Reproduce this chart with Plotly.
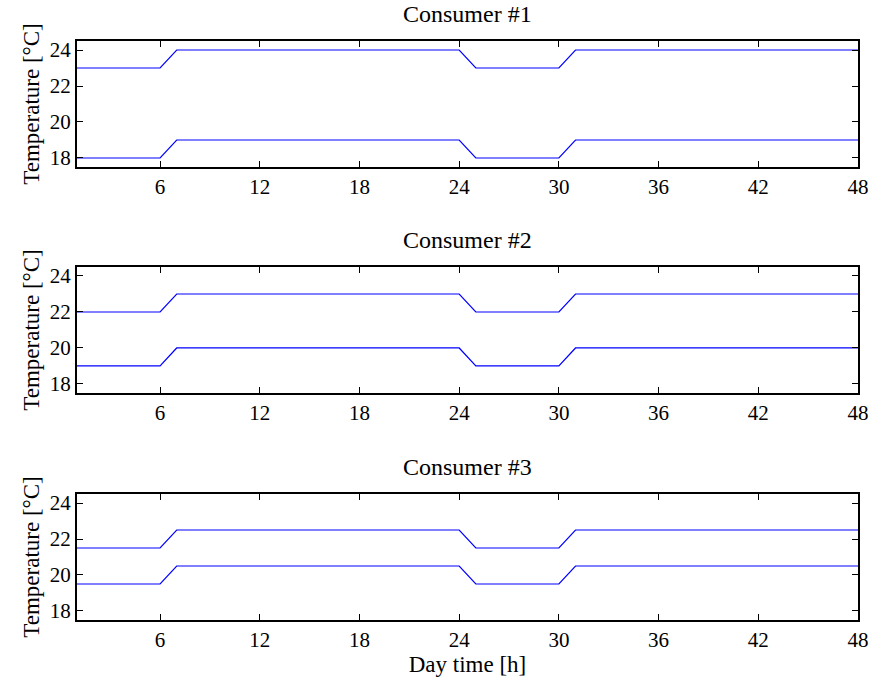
import plotly.graph_objects as go
from plotly.subplots import make_subplots

hours = [1, 2, 3, 4, 5, 6, 7, 8, 9, 10, 11, 12, 13, 14, 15, 16, 17, 18, 19, 20, 21, 22, 23, 24,
         25, 26, 27, 28, 29, 30, 31, 32, 33, 34, 35, 36, 37, 38, 39, 40, 41, 42, 43, 44, 45, 46, 47, 48]

c1_upper = [23, 23, 23, 23, 23, 23, 24, 24, 24, 24, 24, 24, 24, 24, 24, 24, 24, 24, 24, 24, 24, 24, 24, 24,
            23, 23, 23, 23, 23, 23, 24, 24, 24, 24, 24, 24, 24, 24, 24, 24, 24, 24, 24, 24, 24, 24, 24, 24]
c1_lower = [18, 18, 18, 18, 18, 18, 19, 19, 19, 19, 19, 19, 19, 19, 19, 19, 19, 19, 19, 19, 19, 19, 19, 19,
            18, 18, 18, 18, 18, 18, 19, 19, 19, 19, 19, 19, 19, 19, 19, 19, 19, 19, 19, 19, 19, 19, 19, 19]
c2_upper = [22, 22, 22, 22, 22, 22, 23, 23, 23, 23, 23, 23, 23, 23, 23, 23, 23, 23, 23, 23, 23, 23, 23, 23,
            22, 22, 22, 22, 22, 22, 23, 23, 23, 23, 23, 23, 23, 23, 23, 23, 23, 23, 23, 23, 23, 23, 23, 23]
c2_lower = [19, 19, 19, 19, 19, 19, 20, 20, 20, 20, 20, 20, 20, 20, 20, 20, 20, 20, 20, 20, 20, 20, 20, 20,
            19, 19, 19, 19, 19, 19, 20, 20, 20, 20, 20, 20, 20, 20, 20, 20, 20, 20, 20, 20, 20, 20, 20, 20]
c3_upper = [21.5, 21.5, 21.5, 21.5, 21.5, 21.5, 22.5, 22.5, 22.5, 22.5, 22.5, 22.5, 22.5, 22.5, 22.5, 22.5,
            22.5, 22.5, 22.5, 22.5, 22.5, 22.5, 22.5, 22.5, 21.5, 21.5, 21.5, 21.5, 21.5, 21.5, 22.5, 22.5,
            22.5, 22.5, 22.5, 22.5, 22.5, 22.5, 22.5, 22.5, 22.5, 22.5, 22.5, 22.5, 22.5, 22.5, 22.5, 22.5]
c3_lower = [19.5, 19.5, 19.5, 19.5, 19.5, 19.5, 20.5, 20.5, 20.5, 20.5, 20.5, 20.5, 20.5, 20.5, 20.5, 20.5,
            20.5, 20.5, 20.5, 20.5, 20.5, 20.5, 20.5, 20.5, 19.5, 19.5, 19.5, 19.5, 19.5, 19.5, 20.5, 20.5,
            20.5, 20.5, 20.5, 20.5, 20.5, 20.5, 20.5, 20.5, 20.5, 20.5, 20.5, 20.5, 20.5, 20.5, 20.5, 20.5]

titles = ["Consumer #1", "Consumer #2", "Consumer #3"]
x_ticks = [6, 12, 18, 24, 30, 36, 42, 48]
y_ticks = [18, 20, 22, 24]
series = [(c1_upper, c1_lower), (c2_upper, c2_lower), (c3_upper, c3_lower)]

FONT = "Liberation Serif"
fig = make_subplots(rows=3, cols=1)

for i, (up, lo) in enumerate(series, start=1):
    for ys in (up, lo):
        fig.add_trace(go.Scatter(x=hours, y=ys, mode="lines",
                                 line=dict(color="#0000FF", width=1.2),
                                 showlegend=False), row=i, col=1)

domains = [[0.7824, 1.0], [0.3921, 0.6097], [0.0, 0.2176]]
for i in range(1, 4):
    xa = "xaxis" if i == 1 else f"xaxis{i}"
    ya = "yaxis" if i == 1 else f"yaxis{i}"
    fig.layout[xa].update(
        range=[1, 48], tickvals=x_ticks, ticks="inside", ticklen=6, tickwidth=1,
        tickcolor="black", showline=True, linecolor="black", linewidth=2,
        mirror="ticks", showgrid=False, zeroline=False, automargin=False,
        tickfont=dict(family=FONT, size=21, color="black"))
    fig.layout[ya].update(
        domain=domains[i - 1], range=[17.5, 24.5], tickvals=y_ticks, ticks="inside",
        ticklen=6, tickwidth=1, tickcolor="black", showline=True, linecolor="black",
        linewidth=2, mirror="ticks", showgrid=False, zeroline=False, automargin=False,
        tickfont=dict(family=FONT, size=21, color="black"),
        title=dict(text="Temperature [°C]", font=dict(family=FONT, size=23, color="black"),
                   standoff=4))
    fig.add_annotation(text=titles[i - 1], x=0.5, xref="paper",
                       y=domains[i - 1][1], yref="paper", yanchor="bottom", yshift=12,
                       showarrow=False, font=dict(family=FONT, size=24, color="black"))

fig.layout["xaxis3"].update(title=dict(text="Day time [h]",
                                       font=dict(family=FONT, size=23, color="black"),
                                       standoff=4))

fig.update_layout(width=870, height=687, margin=dict(l=77, r=12, t=41, b=67),
                  plot_bgcolor="white", paper_bgcolor="white",
                  font=dict(family=FONT, color="black"))

fig.write_html("out.html")
